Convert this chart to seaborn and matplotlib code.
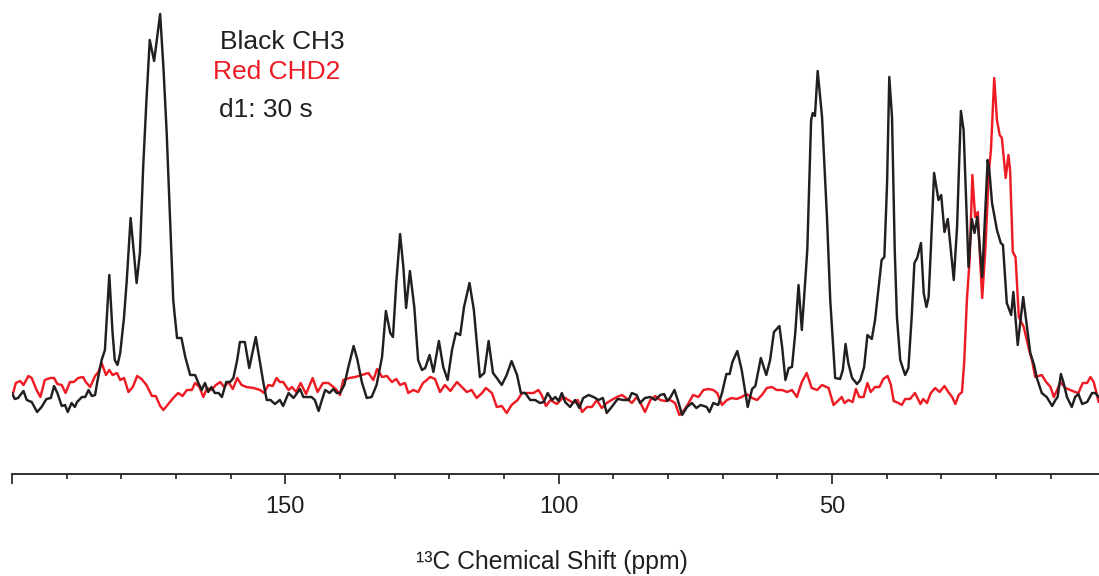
import matplotlib
matplotlib.use("Agg")
import matplotlib.pyplot as plt
import seaborn as sns
import pandas as pd

# ---- data (ppm, intensity) ----
black_ppm = [
    200.0, 199.5, 198.9, 197.9, 197.3, 196.4, 195.4, 194.6, 193.7, 192.9,
    192.3, 191.7, 190.9, 190.3, 189.8, 189.1, 188.5, 188.1, 187.2, 186.6,
    186.0, 185.4, 184.8, 184.4, 183.6, 183.0, 182.2, 181.6, 181.2, 180.7,
    180.2, 179.5, 179.0, 178.3, 177.8, 177.2, 176.6, 176.0, 175.4, 174.8,
    174.0, 172.9, 172.3, 171.7, 171.1, 170.5, 170.2, 169.8, 169.0, 168.3,
    167.4, 166.5, 165.9, 165.3, 164.7, 164.1, 163.5, 162.9, 162.2, 161.6,
    160.8, 160.1, 159.5, 158.8, 158.3, 157.4, 156.6, 155.4, 154.6, 154.0,
    153.4, 152.7, 151.9, 151.0, 150.4, 149.4, 148.5, 147.3, 146.7, 145.2,
    144.6, 143.9, 143.3, 142.7, 141.9, 141.2, 140.6, 140.0, 139.2, 138.5,
    137.5, 136.8, 136.0, 135.1, 134.2, 133.3, 132.3, 131.6, 130.8, 130.3,
    129.7, 129.0, 128.4, 127.9, 127.2, 126.4, 125.7, 125.0, 124.4, 123.6,
    122.9, 121.9, 121.1, 120.3, 119.5, 118.8, 118.0, 117.3, 116.3, 115.5,
    114.4, 113.6, 112.8, 112.0, 111.3, 110.4, 109.5, 108.6, 107.6, 106.9,
    106.1, 105.2, 104.3, 103.4, 102.7, 102.0, 101.2, 100.6, 100.0, 99.4,
    98.8, 97.9, 97.0, 96.2, 95.5, 94.5, 93.6, 92.7, 91.9, 91.2,
    90.3, 89.2, 88.1, 87.2, 86.6, 85.7, 85.1, 84.2, 83.2, 82.3,
    81.4, 80.7, 80.1, 79.5, 78.8, 78.2, 77.4, 76.5, 75.6, 74.8,
    74.0, 72.9, 72.4, 71.7, 70.8, 70.1, 69.3, 68.7, 68.2, 67.3,
    66.5, 65.4, 64.6, 64.0, 63.0, 62.0, 61.3, 60.6, 59.6, 59.1,
    58.5, 57.9, 57.3, 56.7, 56.1, 55.5, 54.9, 54.5, 53.8, 53.5,
    53.1, 52.6, 51.8, 50.9, 50.3, 49.8, 49.4, 48.5, 48.0, 47.5,
    47.0, 46.3, 45.4, 44.8, 44.1, 43.5, 42.7, 42.1, 41.5, 40.9,
    40.4, 39.9, 39.5, 39.0, 38.5, 38.1, 37.5, 36.6, 36.0, 35.4,
    34.9, 34.4, 33.7, 33.2, 32.7, 32.3, 31.9, 31.3, 30.5, 30.0,
    29.4, 28.8, 27.7, 27.1, 26.4, 25.9, 25.0, 24.4, 23.9, 23.4,
    22.5, 21.5, 21.2, 20.7, 19.8, 19.1, 18.7, 18.0, 17.2, 16.8,
    16.0, 15.0, 14.4, 13.7, 13.0, 12.5, 11.6, 10.7, 9.7, 9.1,
    8.7, 8.1, 7.6, 7.0, 6.1, 5.5, 4.9, 4.2, 3.3, 2.4, 1.8, 1.2,
]
black_int = [
    7, 1, 2, 9, 0, -2, -12, -7, 1, 2,
    14, 7, -6, -5, -12, -3, -7, -2, 3, 3,
    10, 4, 5, 18, 40, 50, 125, 67, 40, 35,
    47, 83, 120, 182, 153, 117, 147, 233, 300, 360,
    339, 386, 333, 267, 183, 100, 83, 62, 62, 43,
    25, 25, 17, 10, 17, 8, 13, 7, 7, 3,
    18, 18, 22, 40, 58, 58, 32, 63, 37, 17,
    0, 0, -4, 0, -6, 7, 2, 11, 3, 3,
    0, -11, 0, 10, 7, 11, 7, 7, 15, 32,
    54, 40, 18, 2, 3, 15, 43, 89, 67, 63,
    117, 166, 133, 92, 129, 93, 40, 30, 32, 45,
    28, 59, 33, 20, 50, 67, 65, 93, 117, 90,
    23, 27, 59, 27, 22, 15, 25, 39, 25, 7,
    7, 0, 0, -3, -2, 7, 0, 3, -1, 7,
    -2, -7, 0, -8, 2, 5, 3, 0, 2, -13,
    -7, 1, 0, 0, 7, 5, -3, 2, 3, 0,
    5, 6, -1, 3, 10, 0, -15, -7, -3, -8,
    -5, -7, -12, -3, -5, 7, 26, 26, 38, 49,
    30, -7, 11, 14, 42, 25, 40, 68, 74, 53,
    20, 32, 33, 67, 115, 70, 117, 150, 280, 287,
    284, 329, 283, 183, 100, 57, 22, 21, 30, 56,
    37, 22, 16, 20, 33, 65, 61, 80, 110, 140,
    143, 217, 323, 283, 150, 83, 40, 25, 32, 83,
    137, 142, 157, 107, 93, 103, 150, 227, 200, 205,
    168, 181, 120, 173, 289, 270, 133, 181, 167, 183,
    123, 240, 230, 197, 170, 157, 155, 97, 85, 108,
    55, 103, 77, 47, 35, 22, 7, 3, -6, 0,
    3, 26, 17, 3, -7, 3, 6, -4, -2, 7, 7, 3,
]

red_ppm = [
    199.8, 199.3, 198.5, 197.9, 197.0, 196.4, 195.5, 194.8, 194.0, 193.0,
    192.3, 191.7, 190.9, 190.2, 189.4, 188.7, 187.9, 187.0, 186.5, 185.7,
    184.8, 184.2, 183.6, 182.8, 182.2, 181.6, 180.8, 180.2, 179.5, 178.7,
    177.9, 177.1, 176.3, 175.4, 174.4, 173.7, 172.9, 172.3, 171.4, 170.5,
    169.6, 168.8, 168.0, 167.1, 166.5, 165.7, 165.0, 164.3, 163.5, 162.7,
    161.9, 161.2, 160.4, 159.6, 158.8, 158.0, 157.1, 155.8, 154.6, 153.9,
    153.1, 152.3, 151.6, 151.0, 150.4, 149.4, 148.8, 148.0, 147.2, 146.2,
    145.0, 144.1, 143.1, 142.1, 141.2, 140.6, 140.0, 139.4, 138.3, 137.2,
    136.0, 134.8, 133.9, 133.2, 132.3, 131.4, 130.5, 129.7, 129.0, 128.1,
    127.5, 126.6, 125.7, 124.8, 124.1, 123.5, 122.6, 121.7, 120.8, 119.8,
    118.6, 117.7, 116.8, 115.9, 115.0, 114.0, 113.3, 112.2, 111.3, 110.4,
    109.5, 108.6, 107.5, 106.7, 105.5, 104.6, 103.7, 103.1, 102.3, 101.5,
    100.3, 99.1, 98.2, 97.3, 96.5, 95.7, 94.8, 93.9, 93.0, 92.1,
    91.2, 90.3, 89.3, 88.4, 87.4, 86.6, 85.7, 85.1, 84.2, 83.2,
    82.3, 81.4, 80.5, 79.6, 78.7, 77.9, 77.0, 76.2, 75.4, 74.4,
    73.5, 72.6, 71.7, 71.0, 70.1, 69.2, 68.3, 67.4, 66.5, 65.6,
    64.6, 63.7, 62.8, 61.9, 61.0, 60.1, 59.1, 58.2, 57.3, 56.4,
    55.5, 54.6, 53.7, 52.7, 51.8, 50.6, 49.7, 49.1, 48.2, 47.7,
    47.0, 46.2, 45.6, 45.0, 44.2, 43.5, 42.9, 42.1, 41.3, 40.6,
    39.8, 39.2, 38.7, 37.8, 37.2, 36.6, 35.7, 34.8, 33.8, 33.3,
    32.6, 31.9, 31.1, 30.3, 29.4, 28.7, 28.0, 27.4, 26.8, 26.2,
    25.8, 25.3, 24.8, 24.3, 23.8, 23.3, 23.0, 22.5, 21.9, 21.3,
    20.9, 20.3, 19.8, 19.3, 18.9, 18.2, 17.7, 17.4, 16.9, 16.4,
    15.8, 14.9, 14.0, 13.4, 12.8, 12.2, 11.6, 10.8, 10.0, 9.4,
    8.8, 8.2, 7.3, 6.4, 5.5, 4.9, 4.1, 3.3, 2.7, 2.1, 1.5, 1.2,
]
red_int = [
    7, 17, 19, 15, 24, 22, 10, 3, 20, 22,
    22, 16, 15, 7, 18, 18, 22, 23, 18, 13,
    24, 28, 37, 25, 30, 25, 27, 20, 22, 8,
    13, 24, 21, 15, 4, 4, -6, -10, -4, 2,
    7, 4, 10, 10, 17, 13, 3, 12, 10, 15,
    18, 13, 18, 11, 22, 15, 13, 12, 10, 7,
    15, 14, 22, 18, 18, 10, 13, 8, 17, 6,
    22, 8, 17, 17, 13, 10, 5, 20, 22, 23,
    25, 27, 20, 31, 23, 24, 18, 21, 15, 17,
    7, 10, 8, 17, 20, 23, 21, 8, 15, 9,
    18, 13, 8, 10, 2, 7, 12, 7, -7, -6,
    -13, -5, 0, 7, 7, 7, 10, 5, -6, 0,
    -4, 3, 0, -3, 0, -12, -7, -7, 0, -8,
    -3, 0, 3, 5, 1, -3, 3, -2, -12, 0,
    4, 0, -1, 0, -3, -15, -10, -3, 5, 3,
    10, 11, 10, 7, -5, 0, 2, 1, 3, 6,
    2, 0, 5, 12, 13, 10, 10, 8, 10, 3,
    18, 27, 12, 10, 15, 12, -5, -2, 3, -3,
    0, -2, 11, 3, 3, 17, 8, 13, 13, 21,
    24, 15, -1, -3, -5, 1, 1, 7, -4, 1,
    -3, 7, 12, 8, 14, 8, 3, -4, 5, 8,
    37, 100, 140, 225, 183, 188, 153, 102, 153, 227,
    250, 322, 280, 265, 262, 222, 245, 230, 148, 143,
    83, 73, 52, 40, 23, 24, 25, 18, 13, 3,
    10, 18, 12, 10, 8, 7, 17, 17, 23, 18, 5, -2,
]

major_ticks = [200, 150, 100, 50]
major_labels = ["", "150", "100", "50"]
minor_ticks = [190, 180, 170, 160, 140, 130, 120, 110, 90, 80, 70, 60, 40, 30, 20, 10]

annotations = ["Black CH3", "Red CHD2", "d1: 30 s"]
annotation_colors = ["#231f20", "#ed1c24", "#231f20"]
xlabel_text = "\u00b9\u00b3C Chemical Shift (ppm)"

BLACK = "#231f20"
RED = "#ed1c24"

sns.set_theme(style="white")
plt.rcParams["font.family"] = ["Liberation Sans", "DejaVu Sans"]

W, H = 1099, 576
fig = plt.figure(figsize=(W / 100, H / 100), dpi=100)
axis_y = 473.5
ax = fig.add_axes([12 / W, (H - axis_y) / H, (W - 12) / W, axis_y / H])

df_red = pd.DataFrame({"ppm": red_ppm, "intensity": red_int})
df_black = pd.DataFrame({"ppm": black_ppm, "intensity": black_int})

line_kw = dict(estimator=None, sort=False, ax=ax, lw=1.75,
               solid_joinstyle="round", solid_capstyle="round")
sns.lineplot(data=df_red, x="ppm", y="intensity", color=RED, **line_kw)
sns.lineplot(data=df_black, x="ppm", y="intensity", color=BLACK, **line_kw)

ax.set_xlim(200, 1.13)
ax.set_ylim(-73.5, 400)

for s in ["left", "top", "right"]:
    ax.spines[s].set_visible(False)
ax.spines["bottom"].set_color("#231f20")
ax.spines["bottom"].set_linewidth(1.3)

ax.set_yticks([])
ax.set_xticks(major_ticks)
ax.set_xticklabels(major_labels)
ax.set_xticks(minor_ticks, minor=True)
ax.tick_params(axis="x", which="major", direction="out", length=7, width=1.2,
               color="#231f20", labelsize=17, pad=9, labelcolor="#231f20", bottom=True)
ax.tick_params(axis="x", which="minor", direction="out", length=3.8, width=1.2,
               color="#231f20", bottom=True)
ax.set_xlabel("")
ax.set_ylabel("")
ax.grid(False)

fig.text(552 / W, 1 - 562 / H, xlabel_text, ha="center", va="center",
         fontsize=17.8, color="#231f20")

ann_pos = [(220, 42), (213, 72), (219, 110)]
for (x, y), t, c in zip(ann_pos, annotations, annotation_colors):
    fig.text(x / W, 1 - y / H, t, ha="left", va="center", fontsize=19, color=c)

fig.savefig("out.png", dpi=100)
